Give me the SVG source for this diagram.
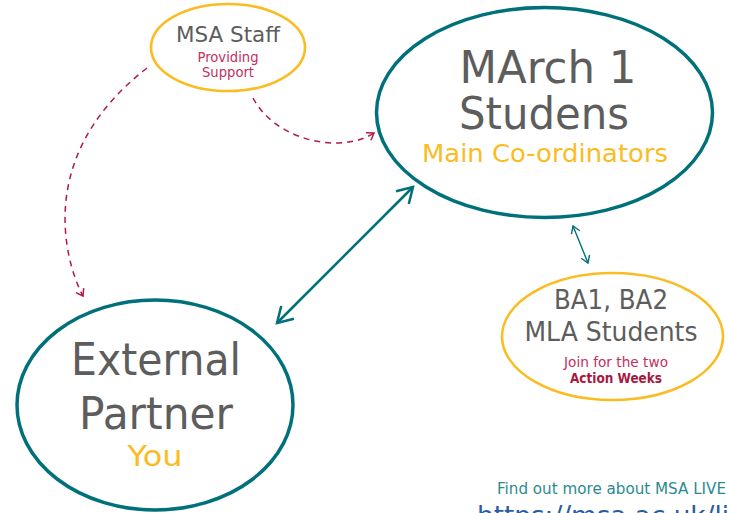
<svg xmlns="http://www.w3.org/2000/svg" width="729" height="513" viewBox="0 0 729 513">
<style>
text{font-family:"DejaVu Sans","Liberation Sans",sans-serif;text-anchor:middle}
.g{fill:#5d5d5d}
.y{fill:#FBBC22}
.r{fill:#C4305E}
.teal{fill:none;stroke:#00717A;stroke-width:3.5}
.gold{fill:none;stroke:#FBBC22;stroke-width:2.6}
.dash{fill:none;stroke:#B0184C;stroke-width:1.5;stroke-dasharray:6 5}
.con{fill:none;stroke:#00717A}
</style>
<defs>
<marker id="bh" markerUnits="userSpaceOnUse" viewBox="-20 -12 24 24" markerWidth="24" markerHeight="24" refX="0" refY="0" orient="auto-start-reverse">
<path d="M-15,-9 L0,0 L-15,9" fill="none" stroke="#00717A" stroke-width="2.5"/>
</marker>
<marker id="sh" markerUnits="userSpaceOnUse" viewBox="-10 -6 12 12" markerWidth="12" markerHeight="12" refX="0" refY="0" orient="auto-start-reverse">
<path d="M-7,-4.5 L0,0 L-7,4.5" fill="none" stroke="#00717A" stroke-width="1.4"/>
</marker>
<marker id="dh" markerUnits="userSpaceOnUse" viewBox="-10 -6 12 12" markerWidth="12" markerHeight="12" refX="0" refY="0" orient="auto">
<path d="M-6.5,-4.5 L0,0 L-6.5,4.5" fill="none" stroke="#B0184C" stroke-width="1.5"/>
</marker>
</defs>
<rect width="729" height="513" fill="#fff"/>
<g id="connectors">
<path class="dash" d="M147,68 C22,165 75,282 83,296" marker-end="url(#dh)"/>
<path class="dash" d="M253,98 C275,140 340,155 374,133" marker-end="url(#dh)"/>
<line class="con" x1="413" y1="187" x2="277" y2="323" stroke-width="2.5" marker-start="url(#bh)" marker-end="url(#bh)"/>
<line class="con" x1="573" y1="226" x2="588" y2="263" stroke-width="1.4" marker-start="url(#sh)" marker-end="url(#sh)"/>
</g>
<g id="msa-staff">
<ellipse class="gold" cx="228" cy="47.5" rx="77" ry="43.5"/>
<text class="g" x="228" y="42" font-size="22" textLength="104" lengthAdjust="spacingAndGlyphs">MSA Staff</text>
<text class="r" x="228" y="62" font-size="13.5" textLength="61" lengthAdjust="spacingAndGlyphs">Providing</text>
<text class="r" x="228" y="77" font-size="13.5" textLength="52" lengthAdjust="spacingAndGlyphs">Support</text>
</g>
<g id="march1">
<ellipse class="teal" cx="544.5" cy="112.5" rx="168" ry="105"/>
<text class="g" x="548" y="83" font-size="44" textLength="177" lengthAdjust="spacingAndGlyphs">MArch 1</text>
<text class="g" x="544" y="129" font-size="44" textLength="170" lengthAdjust="spacingAndGlyphs">Studens</text>
<text class="y" x="545" y="162" font-size="25" textLength="246" lengthAdjust="spacingAndGlyphs">Main Co-ordinators</text>
</g>
<g id="external-partner">
<ellipse class="teal" cx="155" cy="405" rx="138" ry="105"/>
<text class="g" x="156" y="375" font-size="45" textLength="170" lengthAdjust="spacingAndGlyphs">External</text>
<text class="g" x="156" y="429" font-size="45" textLength="154" lengthAdjust="spacingAndGlyphs">Partner</text>
<text class="y" x="155" y="466" font-size="29" textLength="55" lengthAdjust="spacingAndGlyphs">You</text>
</g>
<g id="ba-mla">
<ellipse class="gold" cx="612.5" cy="336.5" rx="110.5" ry="63.5"/>
<text class="g" x="611" y="309" font-size="27" textLength="114" lengthAdjust="spacingAndGlyphs">BA1, BA2</text>
<text class="g" x="611" y="341" font-size="27" textLength="173" lengthAdjust="spacingAndGlyphs">MLA Students</text>
<text class="r" x="616" y="367" font-size="13.5" textLength="104" lengthAdjust="spacingAndGlyphs">Join for the two</text>
<text x="616" y="383" font-size="13.5" font-weight="bold" fill="#A8173F" textLength="92" lengthAdjust="spacingAndGlyphs">Action Weeks</text>
</g>
<g id="footer">
<text x="497" y="494" font-size="16" fill="#2B8A8F" style="text-anchor:start" textLength="229" lengthAdjust="spacingAndGlyphs">Find out more about MSA LIVE</text>
<text x="477" y="525" font-size="26" fill="#2A5CA0" style="text-anchor:start" textLength="252" lengthAdjust="spacingAndGlyphs">https://msa.ac.uk/li</text>
</g>
</svg>
